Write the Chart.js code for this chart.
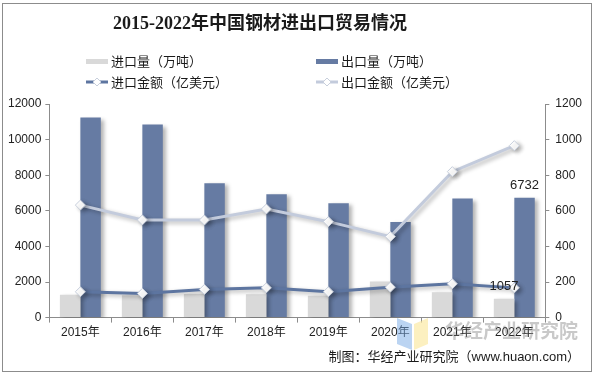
<!DOCTYPE html>
<html>
<head>
<meta charset="utf-8">
<script src="https://cdn.jsdelivr.net/npm/chart.js@4"></script>
<style>
  html, body { margin: 0; padding: 0; background: #fff; }
  #wrap { width: 596px; height: 376px; position: relative; }
</style>
</head>
<body>
<div id="wrap"><canvas id="chart" width="596" height="376"></canvas></div>
<script>
// chart data
const years = ["2015年", "2016年", "2017年", "2018年", "2019年", "2020年", "2021年", "2022年"];
const importVolume = [1278, 1253, 1330, 1317, 1230, 2023, 1427, 1057];      // 万吨
const exportVolume = [11240, 10843, 7541, 6933, 6429, 5367, 6690, 6732];    // 万吨
const importValue = [145, 136, 158, 167, 145, 171, 190, 167];               // 亿美元
const exportValue = [632, 549, 548, 610, 539, 455, 820, 966];               // 亿美元
const leftTicks = [0, 2000, 4000, 6000, 8000, 10000, 12000];
const rightTicks = [0, 200, 400, 600, 800, 1000, 1200];

const cjk = '"Liberation Sans", "Noto Sans CJK SC", sans-serif';
const colImportBar = "#d9d9d9";
const colExportBar = "#667ba3";
const colImportLine = "#5d75a0";
const colExportLine = "#c3cbdc";

// drop shadow like the original office chart
const shadowPlugin = {
  id: "shadow",
  beforeDatasetDraw(chart) {
    const ctx = chart.ctx;
    ctx.save();
    ctx.shadowColor = "rgba(0,0,0,0.3)";
    ctx.shadowBlur = 4;
    ctx.shadowOffsetX = 3;
    ctx.shadowOffsetY = 2;
  },
  afterDatasetDraw(chart) {
    chart.ctx.restore();
  }
};

// frame, title, legend, labels, footer
const decorPlugin = {
  id: "decor",
  afterDraw(chart) {
    const ctx = chart.ctx;
    ctx.save();
    ctx.strokeStyle = "#8c8c8c";
    ctx.lineWidth = 1;
    ctx.strokeRect(2.5, 3.5, 589, 368);

    // title
    ctx.fillStyle = "#1a1a1a";
    ctx.font = 'bold 18px "Liberation Serif", "Noto Sans CJK SC", serif';
    ctx.textAlign = "center";
    ctx.textBaseline = "middle";
    ctx.fillText("2015-2022年中国钢材进出口贸易情况", 260, 24);

    // legend
    ctx.font = "13px " + cjk;
    ctx.textAlign = "left";
    const items = [
      { t: "进口量（万吨）", x: 86, y: 61, kind: "box", c: colImportBar },
      { t: "出口量（万吨）", x: 316, y: 61, kind: "box", c: colExportBar },
      { t: "进口金额（亿美元）", x: 86, y: 82, kind: "line", c: colImportLine },
      { t: "出口金额（亿美元）", x: 316, y: 82, kind: "line", c: colExportLine }
    ];
    items.forEach(it => {
      if (it.kind === "box") {
        ctx.fillStyle = it.c;
        ctx.fillRect(it.x, it.y - 2, 22, 5);
      } else {
        ctx.strokeStyle = it.c;
        ctx.lineWidth = 3;
        ctx.beginPath();
        ctx.moveTo(it.x, it.y);
        ctx.lineTo(it.x + 22, it.y);
        ctx.stroke();
        ctx.fillStyle = "#fff";
        ctx.strokeStyle = "#c8cfdc";
        ctx.lineWidth = 1;
        ctx.beginPath();
        ctx.moveTo(it.x + 11, it.y - 4);
        ctx.lineTo(it.x + 15, it.y);
        ctx.lineTo(it.x + 11, it.y + 4);
        ctx.lineTo(it.x + 7, it.y);
        ctx.closePath();
        ctx.fill();
        ctx.stroke();
      }
      ctx.fillStyle = "#1a1a1a";
      ctx.fillText(it.t, it.x + 25, it.y + 1);
    });

    // value labels on 2022 bars
    const last = years.length - 1;
    ctx.font = "13px " + cjk;
    ctx.textAlign = "center";
    ctx.textBaseline = "bottom";
    ctx.fillStyle = "#222";
    const impBar = chart.getDatasetMeta(2).data[last];
    const expBar = chart.getDatasetMeta(3).data[last];
    ctx.fillText(String(importVolume[last]), impBar.x, impBar.y - 6);
    ctx.fillText(String(exportVolume[last]), expBar.x, expBar.y - 6);

    // watermark
    ctx.fillStyle = "rgba(120,170,230,0.5)";
    ctx.beginPath();
    ctx.moveTo(397, 318); ctx.lineTo(412, 324); ctx.lineTo(412, 350); ctx.lineTo(397, 344);
    ctx.closePath(); ctx.fill();
    ctx.fillStyle = "rgba(250,230,150,0.6)";
    ctx.beginPath();
    ctx.moveTo(414, 324); ctx.lineTo(428, 318); ctx.lineTo(428, 344); ctx.lineTo(414, 350);
    ctx.closePath(); ctx.fill();
    ctx.fillStyle = "rgba(120,120,120,0.4)";
    ctx.font = 'bold 19px "Noto Sans CJK SC", sans-serif';
    ctx.textAlign = "left";
    ctx.textBaseline = "middle";
    ctx.fillText("华经产业研究院", 445, 331);

    // footer
    ctx.fillStyle = "#1a1a1a";
    ctx.font = "13px " + cjk;
    ctx.textAlign = "right";
    ctx.fillText("制图：华经产业研究院（www.huaon.com）", 580, 357);
    ctx.restore();
  }
};

const axisGrid = { display: true, drawOnChartArea: false, drawTicks: true, tickLength: 4, color: "#8c8c8c" };
const tickFont = { family: cjk, size: 12 };
const plain = v => String(v);

new Chart(document.getElementById("chart"), {
  type: "bar",
  data: {
    labels: years,
    datasets: [
      {
        type: "line", label: "进口金额（亿美元）", data: importValue, yAxisID: "y1", order: 1,
        borderColor: colImportLine, borderWidth: 3, pointStyle: "rectRot", pointRadius: 5,
        pointBackgroundColor: "#fff", pointBorderColor: "#c8cfdc", pointBorderWidth: 1, tension: 0
      },
      {
        type: "line", label: "出口金额（亿美元）", data: exportValue, yAxisID: "y1", order: 1,
        borderColor: colExportLine, borderWidth: 3, pointStyle: "rectRot", pointRadius: 5,
        pointBackgroundColor: "#fff", pointBorderColor: "#c8cfdc", pointBorderWidth: 1, tension: 0
      },
      {
        label: "进口量（万吨）", data: importVolume, yAxisID: "y", order: 2,
        backgroundColor: colImportBar, barPercentage: 1, categoryPercentage: 0.66
      },
      {
        label: "出口量（万吨）", data: exportVolume, yAxisID: "y", order: 2,
        backgroundColor: colExportBar, barPercentage: 1, categoryPercentage: 0.66
      }
    ]
  },
  options: {
    responsive: false,
    animation: false,
    layout: { padding: { top: 104, left: 4, right: 8, bottom: 33 } },
    plugins: { legend: { display: false }, title: { display: false }, tooltip: { enabled: false } },
    scales: {
      x: {
        grid: { ...axisGrid, offset: true, tickLength: 5 },
        border: { color: "#8c8c8c" },
        ticks: { font: tickFont, color: "#222", padding: 3, maxRotation: 0 }
      },
      y: {
        position: "left", min: 0, max: 12000,
        afterBuildTicks(axis) { axis.ticks = leftTicks.map(v => ({ value: v })); },
        grid: axisGrid,
        border: { color: "#8c8c8c" },
        ticks: { font: tickFont, color: "#222", padding: 4, callback: plain }
      },
      y1: {
        position: "right", min: 0, max: 1200,
        afterBuildTicks(axis) { axis.ticks = rightTicks.map(v => ({ value: v })); },
        grid: axisGrid,
        border: { color: "#8c8c8c" },
        ticks: { font: tickFont, color: "#222", padding: 6, callback: plain }
      }
    }
  },
  plugins: [shadowPlugin, decorPlugin]
});
</script>
</body>
</html>
